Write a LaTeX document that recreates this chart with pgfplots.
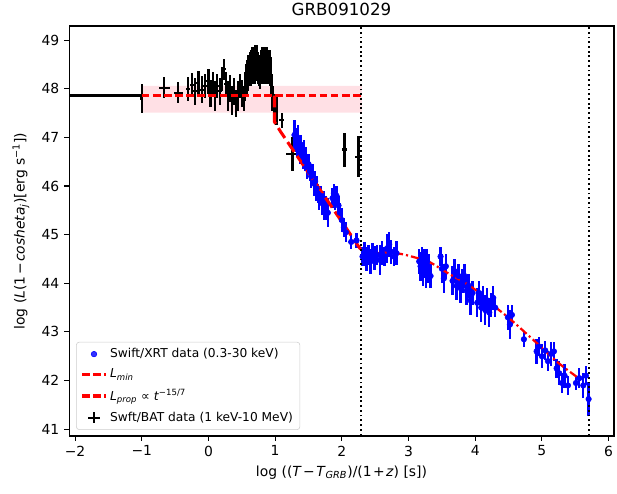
\documentclass[border=0pt]{standalone}
\usepackage{fontspec}
\setmainfont{DejaVu Sans}
\usepackage{pgfplots}
\pgfplotsset{compat=1.18}
\usepackage{pgfplotstable}
\definecolor{bandpink}{RGB}{255,224,229}
\definecolor{legedge}{RGB}{204,204,204}

\pgfplotstableread{
x y ex ey
-1.00 47.80 0.02 0.30
-0.66 48.02 0.08 0.22
-0.45 47.92 0.07 0.22
-0.30 48.00 0.03 0.25
-0.25 48.08 0.03 0.25
-0.20 47.95 0.03 0.28
-0.15 48.12 0.03 0.25
-0.10 47.98 0.03 0.28
-0.05 48.05 0.03 0.25
0.00 48.15 0.03 0.25
0.03 47.90 0.03 0.28
0.07 48.10 0.03 0.25
0.10 47.85 0.03 0.30
0.13 48.05 0.03 0.25
0.17 47.95 0.03 0.28
0.20 48.20 0.03 0.25
0.23 48.40 0.03 0.22
0.26 48.10 0.03 0.25
0.29 47.85 0.03 0.30
0.32 48.00 0.03 0.28
0.35 47.75 0.03 0.30
0.38 47.95 0.03 0.28
0.41 47.70 0.03 0.28
0.44 47.85 0.03 0.30
0.47 48.05 0.03 0.25
0.50 47.90 0.03 0.28
0.53 47.80 0.02 0.25
0.55 48.05 0.01 0.30
0.56 48.20 0.01 0.30
0.57 48.15 0.01 0.30
0.58 48.30 0.01 0.30
0.59 48.25 0.01 0.30
0.60 48.40 0.01 0.30
0.61 48.35 0.01 0.30
0.62 48.45 0.01 0.30
0.63 48.40 0.01 0.35
0.64 48.50 0.01 0.30
0.65 48.45 0.01 0.35
0.66 48.55 0.01 0.30
0.67 48.50 0.01 0.35
0.68 48.55 0.01 0.30
0.69 48.45 0.01 0.35
0.70 48.60 0.01 0.30
0.71 48.50 0.01 0.35
0.72 48.60 0.01 0.30
0.73 48.55 0.01 0.35
0.74 48.45 0.01 0.30
0.75 48.40 0.01 0.30
0.76 48.35 0.01 0.30
0.77 48.30 0.01 0.30
0.78 48.40 0.01 0.30
0.79 48.50 0.01 0.30
0.80 48.45 0.01 0.35
0.81 48.55 0.01 0.30
0.82 48.50 0.01 0.30
0.83 48.45 0.01 0.35
0.84 48.55 0.01 0.30
0.85 48.50 0.01 0.30
0.86 48.45 0.01 0.35
0.87 48.50 0.01 0.30
0.88 48.55 0.01 0.30
0.89 48.45 0.01 0.35
0.90 48.50 0.01 0.30
0.91 48.45 0.01 0.30
0.92 48.50 0.01 0.30
0.93 48.35 0.01 0.30
0.94 48.20 0.01 0.30
0.95 48.00 0.01 0.30
0.96 47.80 0.01 0.25
0.98 47.65 0.02 0.25
1.02 47.55 0.03 0.30
1.10 47.35 0.04 0.15
1.26 46.65 0.10 0.35
2.04 46.75 0.04 0.35
2.25 46.60 0.05 0.42
}\batdata

\pgfplotstableread{
x y ex ey
1.29 47.05 0.01 0.30
1.31 46.95 0.01 0.25
1.33 46.85 0.01 0.25
1.34 47.00 0.01 0.25
1.36 46.80 0.01 0.20
1.37 46.70 0.01 0.25
1.39 46.85 0.01 0.20
1.40 46.65 0.01 0.20
1.42 46.60 0.01 0.25
1.43 46.75 0.01 0.20
1.45 46.50 0.01 0.20
1.46 46.60 0.01 0.20
1.48 46.40 0.01 0.25
1.50 46.45 0.01 0.20
1.52 46.30 0.01 0.20
1.54 46.20 0.01 0.25
1.56 46.25 0.01 0.20
1.58 46.05 0.01 0.25
1.60 46.10 0.01 0.20
1.62 45.95 0.01 0.25
1.64 45.85 0.01 0.20
1.66 45.75 0.01 0.25
1.68 45.80 0.01 0.20
1.70 45.65 0.01 0.25
1.73 45.60 0.01 0.30
1.76 45.55 0.01 0.25
1.79 45.45 0.01 0.30
1.86 45.75 0.01 0.20
1.88 45.85 0.01 0.20
1.90 45.70 0.01 0.20
1.92 45.80 0.01 0.20
1.95 45.60 0.01 0.20
1.97 45.45 0.01 0.20
2.00 45.30 0.01 0.25
2.03 45.15 0.01 0.20
2.06 45.05 0.01 0.20
2.14 44.85 0.01 0.15
2.22 44.88 0.01 0.15
2.31 44.55 0.01 0.20
2.34 44.60 0.01 0.25
2.37 44.50 0.01 0.25
2.40 44.58 0.01 0.20
2.43 44.45 0.01 0.25
2.46 44.62 0.01 0.20
2.49 44.52 0.01 0.25
2.53 44.58 0.01 0.20
2.57 44.48 0.01 0.30
2.60 44.62 0.01 0.25
2.64 44.55 0.01 0.20
2.68 44.72 0.01 0.30
2.71 44.80 0.01 0.25
2.74 44.65 0.01 0.25
2.78 44.55 0.01 0.20
2.82 44.62 0.01 0.25
3.16 44.45 0.01 0.25
3.18 44.35 0.01 0.30
3.20 44.50 0.01 0.25
3.22 44.25 0.01 0.30
3.24 44.40 0.01 0.30
3.26 44.20 0.01 0.30
3.28 44.45 0.01 0.25
3.30 44.30 0.01 0.30
3.33 44.15 0.01 0.25
3.48 44.55 0.01 0.20
3.50 44.30 0.01 0.30
3.53 44.10 0.01 0.30
3.56 44.35 0.01 0.25
3.66 44.05 0.01 0.30
3.69 44.25 0.01 0.25
3.72 43.95 0.01 0.30
3.75 44.15 0.01 0.25
3.78 43.90 0.01 0.30
3.81 44.05 0.01 0.25
3.84 44.15 0.01 0.25
3.87 43.85 0.01 0.30
3.90 43.95 0.01 0.25
3.93 43.65 0.01 0.30
3.96 43.80 0.01 0.25
4.03 43.60 0.01 0.30
4.06 43.80 0.01 0.25
4.09 43.50 0.01 0.30
4.12 43.70 0.01 0.25
4.15 43.45 0.01 0.30
4.18 43.65 0.01 0.25
4.21 43.40 0.01 0.30
4.24 43.55 0.01 0.25
4.27 43.70 0.01 0.25
4.30 43.50 0.01 0.20
4.49 43.30 0.01 0.25
4.52 43.15 0.01 0.30
4.55 43.35 0.01 0.20
4.73 42.85 0.01 0.15
4.92 42.60 0.01 0.25
4.96 42.70 0.01 0.20
5.00 42.50 0.01 0.25
5.05 42.62 0.01 0.20
5.09 42.40 0.01 0.20
5.14 42.55 0.01 0.25
5.18 42.60 0.01 0.20
5.22 42.25 0.01 0.20
5.26 42.15 0.01 0.25
5.30 41.95 0.01 0.20
5.34 42.10 0.01 0.25
5.39 41.90 0.01 0.20
5.51 41.95 0.01 0.15
5.56 42.05 0.01 0.20
5.62 41.90 0.01 0.25
5.66 42.10 0.01 0.20
5.70 41.62 0.01 0.35
}\xrtdata

\begin{document}
\begin{tikzpicture}
\begin{axis}[
  scale only axis, width=392pt, height=295pt,
  xmin=-2.09, xmax=6.08, ymin=40.86, ymax=49.29,
  xtick={-2,...,6}, xticklabels={−2,−1,0,1,2,3,4,5,6},
  ytick={41,...,49},
  tick align=outside, tick pos=left,
  major tick length=3.5pt,
  every tick/.style={black, line width=0.8pt},
  axis line style={line width=0.8pt},
  /pgf/number format/assume math mode=true,
  ticklabel style={font=\fontsize{10}{12}\selectfont},
  label style={font=\fontsize{10}{12}\selectfont},
  title={GRB091029},
  title style={font=\fontsize{12}{14}\selectfont, yshift=-2pt},
  xlabel={log ((\textit{T}\kern1pt−\kern1pt\textit{T}\textsubscript{\textit{GRB}})/(1\kern1pt+\kern1pt\textit{z}) [s])},
  ylabel={log (\textit{L}(1\kern1pt−\kern1pt\textit{cosheta}\textsubscript{\textit{j}})[erg s\textsuperscript{−1}])},
  ylabel style={yshift=2pt},
  legend style={at={(0.013,0.015)}, anchor=south west,
    font=\fontsize{8.8}{10.3}\selectfont, draw=legedge, rounded corners=2pt,
    fill=white, fill opacity=0.8, text opacity=1,
    inner xsep=3pt, inner ysep=2.5pt, row sep=2.6pt},
  legend cell align=left,
]
\addplot[fill=bandpink, draw=none, forget plot] coordinates {(-1,47.51) (2.3,47.51) (2.3,48.06) (-1,48.06) (-1,47.51)};
\addplot[black, line width=1.5pt, forget plot] coordinates {(-2.3,47.86) (-1,47.86)};
\addplot[draw=none, mark=none, forget plot,
  error bars/.cd, x dir=both, x explicit, y dir=both, y explicit, error mark=none,
  error bar style={draw=black, solid, line width=1.5pt}]
  table[x=x, y=y, x error=ex, y error=ey] {\batdata};
\addplot[blue, only marks, mark=*, mark size=2pt, forget plot,
  error bars/.cd, x dir=both, x explicit, y dir=both, y explicit, error mark=none,
  error bar style={line width=1.6pt, blue}]
  table[x=x, y=y, x error=ex, y error=ey] {\xrtdata};
\addplot[red, line width=1.5pt, dash pattern=on 5.5pt off 2.5pt, forget plot] coordinates {(-1,47.86) (2.3,47.86)};
\addplot[red, line width=2.2pt, dash pattern=on 8.5pt off 3.6pt, forget plot] coordinates {(0.99,47.86) (0.99,47.32) (1.08,47.12) (2.3,44.66)};
\addplot[red, line width=1.6pt, dash pattern=on 6pt off 2.2pt on 1.5pt off 2.2pt, smooth, forget plot] coordinates {(2.3,44.58) (2.5,44.62) (2.7,44.63) (2.9,44.60) (3.1,44.53) (3.31,44.44) (3.6,44.20) (3.95,43.92) (4.2,43.62) (4.51,43.28) (4.9,42.80) (5.25,42.36) (5.6,42.00)};
\addplot[black, line width=1.3pt, dash pattern=on 1.3pt off 2.1pt, forget plot] coordinates {(2.29,40) (2.29,50)};
\addplot[black, line width=1.3pt, dash pattern=on 1.3pt off 2.1pt, forget plot] coordinates {(5.70,40) (5.70,50)};

\addlegendimage{only marks, mark=*, blue, mark size=2pt}
\addlegendentry{Swift/XRT data (0.3-30 keV)}
\addlegendimage{red, line width=1.5pt, dash pattern=on 5.5pt off 2.5pt}
\addlegendentry{\textit{L}\textsubscript{\textit{min}}}
\addlegendimage{red, line width=2.2pt, dash pattern=on 5.5pt off 2.5pt}
\addlegendentry{\textit{L}\textsubscript{\textit{prop}} ∝ \textit{t}\textsuperscript{−15/7}}
\addlegendimage{only marks, mark=+, black, mark size=4pt, line width=1.3pt}
\addlegendentry{Swft/BAT data (1 keV-10 MeV)}
\end{axis}
\pgfresetboundingbox
\path[use as bounding box] ([xshift=-49.7pt,yshift=-41pt]current axis.south west) rectangle ([xshift=2.2pt,yshift=18.7pt]current axis.north east);
\end{tikzpicture}
\end{document}
